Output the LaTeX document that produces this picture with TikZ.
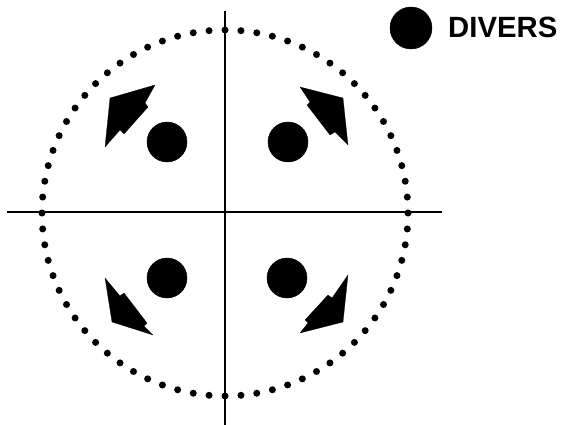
\documentclass[tikz,border=0pt]{standalone}
\usepackage{fontspec}
\setmainfont{Liberation Sans}
\usepackage{tikz}
\usetikzlibrary{calc}

\tikzset{
  diver/.style={circle, fill=black, draw=black, inner sep=0pt, minimum size=1.2cm},
  axis/.style={line width=0.6mm},
  ring/.style={fill=black},
  push/.style={fill=black, draw=black, line width=0.2pt, line join=round}
}

\begin{document}
\begin{tikzpicture}[x=0.03cm, y=-0.03cm]

\useasboundingbox (0,0) rectangle (565,425);

%% axes
\coordinate (top) at (225,11); \coordinate (bottom) at (225,425); \coordinate (left) at (7,212); \coordinate (right) at (442,212);
\draw [axis] (top)--(bottom); \draw [axis] (left)--(right);

%% dotted ring
\coordinate (c) at (225,213);
\foreach \a in {0,5,...,355} {\fill [ring] ($(c)+(\a:183)$) circle [radius=1.05mm];}

%%%%% Divers
\node [diver] (ul) at (167,142) {}; \node [diver] (ur) at (288,142) {};
\node [diver] (ll) at (167,278) {}; \node [diver] (lr) at (287,278) {};

%%%%% Arrows
\fill [push] (155,85)--(145,103)--(148,107)--(124,134)--(120,130)--(105,147)--(110,98)--cycle;
\fill [push] (300,87)--(343,98)--(348,145)--(335,132)--(330,135)--(307,105)--(310,102)--cycle;
\fill [push] (105,278)--(120,296)--(124,293)--(147,323)--(144,326)--(153,335)--(112,322)--cycle;
\fill [push] (348,275)--(343,322)--(300,333)--(308,323)--(305,320)--(328,295)--(332,298)--cycle;

%%%%% Legend
\node [diver, minimum size=1.26cm] (key) at (411,28) {};
\node [anchor=base west, inner sep=0pt, font=\fontsize{25}{25}\selectfont\bfseries] (keytext) at (448,38) {DIVERS};

\end{tikzpicture}
\end{document}
